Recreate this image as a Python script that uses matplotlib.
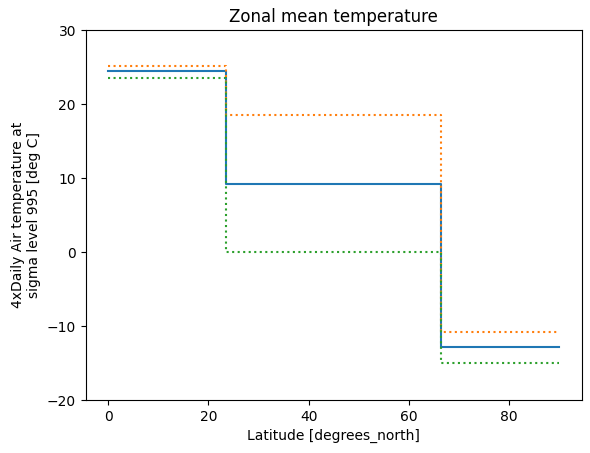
import matplotlib
matplotlib.use("Agg")
import matplotlib.pyplot as plt

edges = [0, 23.5, 66.5, 90]
mean_vals = [24.4, 9.2, -12.9]
upper_vals = [25.2, 18.5, -10.8]
lower_vals = [23.5, 0.0, -15.0]

fig = plt.figure(figsize=(5.9, 4.53), dpi=100)
ax = fig.add_axes([85.7/590, 53/453, 496/590, 370/453])

def step_xy(vals):
    return edges, list(vals) + [vals[-1]]

x, y = step_xy(mean_vals)
ax.plot(x, y, drawstyle="steps-post", color="C0")
x, y = step_xy(upper_vals)
ax.plot(x, y, drawstyle="steps-post", color="C1", linestyle=":")
x, y = step_xy(lower_vals)
ax.plot(x, y, drawstyle="steps-post", color="C2", linestyle=":")

ax.set_ylim(-20, 30)
ax.set_title("Zonal mean temperature")
ax.set_xlabel("Latitude [degrees_north]")
ax.set_ylabel("4xDaily Air temperature at\nsigma level 995 [deg C]")

fig.savefig("out.png", dpi=100)
